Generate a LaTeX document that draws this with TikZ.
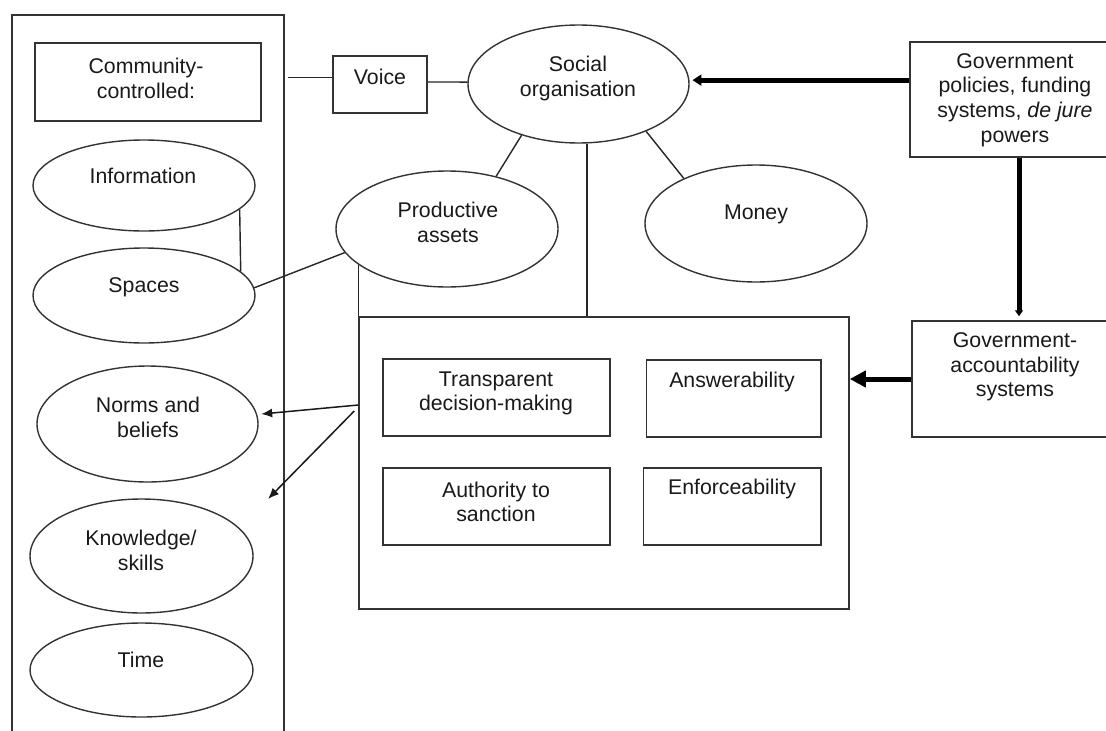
\documentclass[tikz,border=0pt]{standalone}
\usepackage{fontspec}
\setmainfont{Liberation Sans}
\usetikzlibrary{arrows.meta,shapes.geometric}

\begin{document}
\begin{tikzpicture}[
  x=1pt, y=-1pt,
  font=\fontsize{21.3}{24.7}\selectfont,
  box/.style={draw=black!80, line width=1.5pt, rectangle, inner sep=0pt},
  ell/.style={draw=black!80, line width=1.4pt, ellipse, inner sep=0pt},
  txt/.style={align=center, inner sep=0pt, text=black!90},
  link/.style={draw=black!85, line width=1.4pt},
  arrow/.style={-{Latex[length=11pt,width=9pt]}, line width=1.5pt, draw=black!90},
  bigarrow/.style={-{Triangle[length=9pt,width=11pt]}, line width=5pt, draw=black}
]
\useasboundingbox (0,0) rectangle (1106,731);

% Community-controlled column (runs off the bottom edge).
\node[box, minimum width=272, minimum height=745] (pool) at (148,387.5) {};
\node[box, minimum width=226, minimum height=78] (comm) at (148,82) {};
\node[txt] (comm-t) at (146,78.5) {Community-\\controlled:};

\node[ell, minimum width=222, minimum height=91] (info) at (144,185.5) {};
\node[txt] (info-t) at (143,176) {Information};
\node[ell, minimum width=222, minimum height=95] (spaces) at (144,295.5) {};
\node[txt] (spaces-t) at (144,287) {Spaces};
\node[ell, minimum width=221, minimum height=116] (norms) at (147.5,424) {};
\node[txt] (norms-t) at (148,417.5) {Norms and\\beliefs};
\node[ell, minimum width=223, minimum height=114] (know) at (141.5,556) {};
\node[txt] (know-t) at (141,550.5) {Knowledge/\\skills};
\node[ell, minimum width=223, minimum height=94] (time) at (141.5,670) {};
\node[txt] (time-t) at (141,660) {Time};

% Voice and social organisation.
\node[box, minimum width=94, minimum height=57] (voice) at (380,84.5) {};
\node[txt] (voice-t) at (380,77) {Voice};
\node[ell, minimum width=221, minimum height=118] (social) at (578.5,84) {};
\node[txt] (social-t) at (578,78.5) {Social\\organisation};
\node[ell, minimum width=222, minimum height=116] (prod) at (447,229) {};
\node[txt] (prod-t) at (448,222.5) {Productive\\assets};
\node[ell, minimum width=222, minimum height=117] (money) at (756,223.5) {};
\node[txt] (money-t) at (756,214) {Money};

% Accountability block.
\node[box, minimum width=490, minimum height=292] (acc) at (604,463) {};
\node[box, minimum width=227, minimum height=77] (trans) at (496.5,397.5) {};
\node[txt] (trans-t) at (496,393.5) {Transparent\\decision-making};
\node[box, minimum width=174.5, minimum height=77] (answ) at (733.75,398.5) {};
\node[txt] (answ-t) at (732,382) {Answerability};
\node[box, minimum width=227, minimum height=77] (auth) at (496.5,506.5) {};
\node[txt] (auth-t) at (496,502) {Authority to\\sanction};
\node[box, minimum width=177.4, minimum height=77] (enf) at (732.3,506.5) {};
\node[txt] (enf-t) at (732,489) {Enforceability};

% Government side (runs off the right edge).
\node[box, minimum width=210, minimum height=115] (gov) at (1015,99.5) {};
\node[txt] (gov-t) at (1015,100) {Government\\policies, funding\\systems, \textit{de jure}\\powers};
\node[box, minimum width=206, minimum height=116] (govacc) at (1015,379) {};
\node[txt] (govacc-t) at (1015,367) {Government-\\accountability\\systems};

\coordinate (kend) at (268,499);

% Links.
\draw[link] ([xshift=3]pool.east |- voice.172) -- (voice.172);
\draw[link] (voice.3) -- (social.179);
\draw[link] (info.-14) -- (spaces.14);
\draw[link] (spaces.4) -- (prod.193);
\draw[link] (social.222) -- (prod.47);
\draw[link] (social.-35) -- (money.148);
\draw[link] (social.-82) -- (social.-82 |- acc.north);
\draw[link] (prod.202) -- (prod.202 |- acc.north);

\draw[arrow, shorten >=4pt] ([yshift=58]acc.west) -- (norms.5);
\draw[arrow] ([xshift=-4,yshift=52]acc.west) -- (kend);

\draw[bigarrow, shorten >=3pt] (gov.west |- social.2) -- (social.2);
\draw[bigarrow, -{Triangle[length=6pt,width=8pt]}, shorten >=4pt] ([xshift=4]gov.south) -- ([xshift=4]govacc.north);
\draw[bigarrow, -{Triangle[length=16pt,width=16pt]}] (govacc.west) -- (govacc.west -| acc.east);

\end{tikzpicture}
\end{document}
